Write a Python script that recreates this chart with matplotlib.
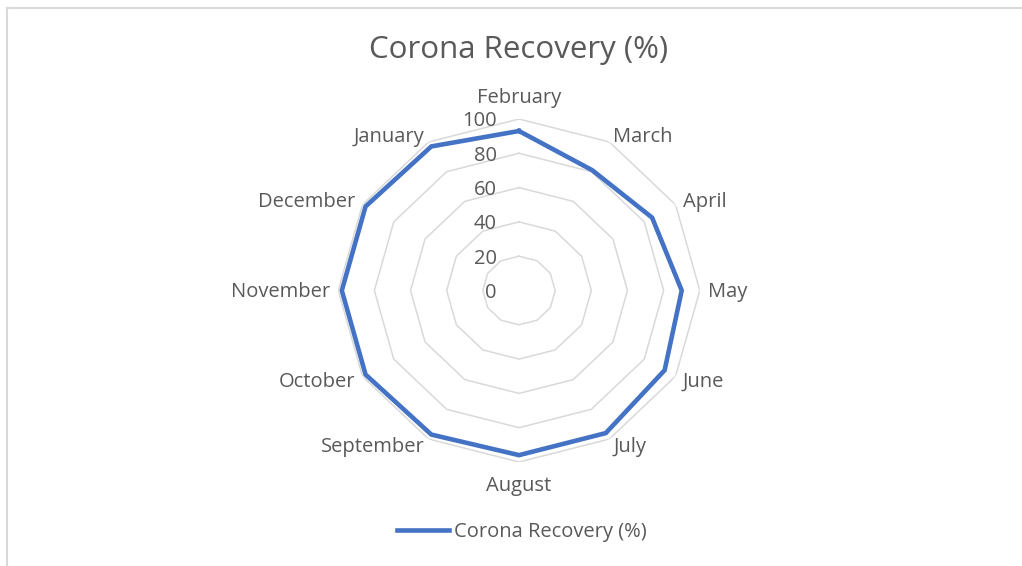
import numpy as np
import matplotlib
matplotlib.use("Agg")
import matplotlib.pyplot as plt
from matplotlib.lines import Line2D

months = ["February", "March", "April", "May", "June", "July", "August",
          "September", "October", "November", "December", "January"]
recovery = [93, 81, 85, 90, 93, 96, 96, 97, 98, 98, 98, 97]
ring_levels = [20, 40, 60, 80, 100]
tick_labels = ["0", "20", "40", "60", "80", "100"]
tick_values = [0, 20, 40, 60, 80, 100]
series_name = "Corona Recovery (%)"
title = "Corona Recovery (%)"

BLUE = "#4472C4"
GRID = "#D9D9D9"
TXT = "#595959"
FONT = ["Open Sans", "DejaVu Sans"]

plt.rcParams["font.family"] = FONT

W, H = 1022, 566
fig = plt.figure(figsize=(W / 100, H / 100), dpi=100)

# chart frame (left and top edges visible)
fig.add_artist(Line2D([7 / W, 7 / W], [0, 1 - 8 / H], transform=fig.transFigure,
                      color=GRID, lw=1.5))
fig.add_artist(Line2D([7 / W, 1], [1 - 8 / H, 1 - 8 / H], transform=fig.transFigure,
                      color=GRID, lw=1.5))

cx, cy, rx, ry = 519, 290.5, 180.8, 171.5
ax = fig.add_axes([(cx - rx) / W, (H - cy - ry) / H, 2 * rx / W, 2 * ry / H],
                  projection="polar")
ax.set_aspect("auto")
ax.set_theta_offset(np.pi / 2)
ax.set_theta_direction(-1)
ax.set_ylim(0, 100)
ax.grid(False)
ax.spines["polar"].set_visible(False)
ax.set_xticks([])
ax.set_yticks([])
ax.patch.set_alpha(0)

n = len(months)
theta = np.arange(n) * 2 * np.pi / n
theta_c = np.append(theta, theta[0])

for lv in ring_levels:
    ax.plot(theta_c, [lv] * (n + 1), color=GRID, lw=1.1, zorder=1)

vals = np.append(recovery, recovery[0])
line, = ax.plot(theta_c, vals, color=BLUE, lw=3.3, zorder=3,
                solid_joinstyle="miter", label=series_name)

FS = 14.5
# category labels
for t, m in zip(theta, months):
    s, c = np.sin(t), np.cos(t)
    if abs(s) < 0.1:
        ha = "center"
        d = 22
    else:
        ha = "left" if s > 0 else "right"
        d = 8
    ax.annotate(m, xy=(t, 100), xytext=(d * s * 0.72, (d * c - 1.5) * 0.72),
                textcoords="offset points", ha=ha, va="center",
                fontsize=FS, color=TXT)

# value labels along the top spoke
for v, lab in zip(tick_values, tick_labels):
    ax.annotate(lab, xy=(0, v), xytext=(-22 * 0.72, -2.5 * 0.72),
                textcoords="offset points", ha="right", va="center",
                fontsize=FS, color=TXT)

fig.text(cx / W, 1 - 50 / H, title, ha="center", va="center",
         fontsize=22.5, color=TXT)

fig.legend(handles=[line], labels=[series_name], loc="center",
           bbox_to_anchor=(522 / W, 1 - 532.5 / H), frameon=False,
           fontsize=FS, labelcolor=TXT, handlelength=2.6,
           handletextpad=0.25)

fig.savefig("out.png", dpi=100, facecolor="white")
